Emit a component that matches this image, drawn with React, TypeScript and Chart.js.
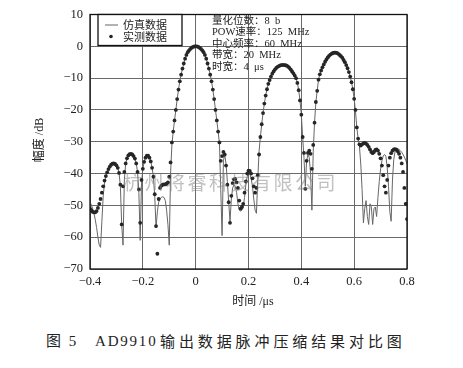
import React, { useEffect, useRef } from "react";
import { Chart, registerables } from "chart.js";

Chart.register(...registerables);

// sample times: T_START + i * T_STEP (µs)
const T_START = -0.4;
const T_STEP = 0.005;

const MEAS_DB = [
  -51.0, -51.5, -52.0, -52.2, -52.2, -51.8, -50.8, -49.5, -48.0, -46.0,
  -44.0, -42.2, -40.8, -39.6, -38.6, -37.8, -37.2, -36.9, -36.8, -37.0,
  -37.4, -38.2, -39.8, -43.5, -56.0, -44.0, -39.5, -36.8, -35.2, -34.3,
  -33.9, -33.8, -34.0, -34.5, -35.3, -36.8, -39.5, -45.0, -55.5, -42.0,
  -38.5, -36.3, -35.0, -34.4, -34.4, -35.0, -36.2, -38.2, -41.0, -46.5,
  -56.5, -65.2, -48.0, -44.5, -43.8, -43.5, -43.4, -43.4, -43.2, -42.8,
  -41.0, -36.5, -30.2, -26.8, -23.3, -20.0, -16.6, -13.6, -11.0, -8.9,
  -7.0, -5.4, -3.9, -2.7, -1.85, -1.25, -0.8, -0.45, -0.2, -0.05,
  0, -0.05, -0.2, -0.45, -0.8, -1.25, -1.85, -2.7, -3.9, -5.4,
  -7.0, -8.9, -11.0, -13.6, -16.6, -20.0, -23.3, -26.8, -30.2, -36.0,
  -34.5, -33.2, -34.0, -37.5, -43.5, -49.0, -55.5, -47.0, -43.0, -41.8,
  -41.7, -42.8, -44.5, -48.5, -51.0, -50.5, -49.5, -46.0, -42.5, -40.0,
  -39.1, -39.2, -40.0, -41.5, -44.0, -46.0, -44.5, -40.5, -34.0, -28.5,
  -24.5, -21.0, -18.0, -15.5, -13.5, -11.8, -10.6, -9.5, -8.6, -7.9,
  -7.3, -6.8, -6.45, -6.2, -6.0, -5.9, -5.85, -5.9, -5.95, -6.1,
  -6.4, -6.8, -7.3, -7.9, -8.5, -9.2, -10.0, -11.5, -13.8, -17.0,
  -21.5, -28.5, -33.5, -44.8, -36.0, -33.5, -32.8, -33.8, -38.5, -31.0,
  -24.0, -17.5, -14.0, -10.5, -8.8, -7.6, -6.6, -5.7, -4.85, -4.15,
  -3.5, -3.0, -2.6, -2.3, -2.1, -2.0, -2.0, -2.1, -2.35, -2.7,
  -3.1, -3.6, -4.3, -5.0, -5.9, -6.9, -8.1, -9.5, -11.3, -13.5,
  -16.5, -20.0, -25.5, -29.0, -30.8, -31.2, -30.8, -30.5, -30.4, -30.6,
  -31.0, -31.6, -32.4, -33.2, -33.6, -33.2, -32.6, -32.4, -32.8, -33.8,
  -35.2, -37.5, -40.5, -44.0, -46.0, -42.0, -37.5, -35.0, -33.6, -32.8,
  -32.4, -32.3, -32.5, -33.0, -33.8, -35.0, -36.8, -39.5, -44.5, -49.5,
  -54.3,
];

// 仿真数据 (dB)
const SIM_DB = [
  -49.0, -49.8, -51.0, -52.5, -54.5, -57.0, -60.0, -62.5, -63.2, -55.0,
  -47.0, -43.0, -40.8, -39.6, -38.6, -37.8, -37.2, -36.9, -36.8, -37.0,
  -37.4, -38.2, -39.8, -44.0, -56.0, -62.5, -42.0, -37.0, -35.3, -34.3,
  -33.9, -33.8, -34.0, -34.5, -35.3, -36.8, -39.5, -46.0, -61.0, -43.0,
  -38.5, -36.3, -35.0, -34.4, -34.4, -35.0, -36.2, -38.2, -41.0, -47.0,
  -57.0, -52.0, -49.0, -48.0, -47.5, -47.3, -47.5, -48.5, -51.5, -56.0,
  -62.5, -40.0, -31.0, -26.8, -23.3, -20.0, -16.6, -13.6, -11.0, -8.9,
  -7.0, -5.4, -3.9, -2.7, -1.85, -1.25, -0.8, -0.45, -0.2, -0.05,
  0, -0.05, -0.2, -0.45, -0.8, -1.25, -1.85, -2.7, -3.9, -5.4,
  -7.0, -8.9, -11.0, -13.6, -16.6, -20.0, -23.3, -26.8, -30.5, -45.0,
  -59.5, -36.0, -34.0, -37.0, -42.5, -49.0, -55.0, -48.0, -44.5, -43.5,
  -44.0, -46.0, -49.5, -51.5, -51.8, -51.5, -50.5, -47.5, -43.5, -41.0,
  -40.0, -40.2, -41.5, -44.0, -48.0, -51.5, -52.5, -42.0, -33.0, -28.5,
  -24.5, -21.0, -18.0, -15.5, -13.5, -11.8, -10.6, -9.5, -8.6, -7.9,
  -7.3, -6.8, -6.45, -6.2, -6.0, -5.9, -5.85, -5.9, -5.95, -6.1,
  -6.4, -6.8, -7.3, -7.9, -8.5, -9.2, -10.0, -11.5, -13.8, -17.0,
  -21.5, -28.5, -35.0, -44.0, -36.0, -34.0, -35.0, -40.0, -51.5, -33.0,
  -24.0, -17.5, -14.0, -10.5, -8.8, -7.6, -6.6, -5.7, -4.85, -4.15,
  -3.5, -3.0, -2.6, -2.3, -2.1, -2.0, -2.0, -2.1, -2.35, -2.7,
  -3.1, -3.6, -4.3, -5.0, -5.9, -6.9, -8.1, -9.5, -11.3, -13.5,
  -16.5, -20.5, -25.5, -29.0, -31.5, -37.0, -45.0, -55.5, -51.0, -48.5,
  -53.5, -56.0, -49.5, -50.5, -56.0, -51.0, -50.5, -53.5, -47.5, -42.5,
  -38.5, -36.0, -34.5, -34.0, -34.5, -38.0, -44.0, -52.0, -55.0, -42.0,
  -35.5, -33.0, -32.3, -32.2, -32.4, -32.8, -33.3, -34.0, -34.8, -35.8,
  -37.0,
];

const X_TICKS = [-0.4, -0.2, 0, 0.2, 0.4, 0.6, 0.8];
const Y_TICKS = [10, 0, -10, -20, -30, -40, -50, -60, -70];
const SERIES_NAMES = ["仿真数据", "实测数据"];
const INFO_LINES = [
  "量化位数：8  b",
  "POW速率：125  MHz",
  "中心频率：60  MHz",
  "带宽：20  MHz",
  "时宽：4  μs",
];
const X_TITLE = "时间 /μs";
const Y_TITLE = "幅度 /dB";
const WATERMARK = "杭州将睿科技有限公司";
const CAPTION_NUM = "图 5";
const CAPTION_CODE = "AD9910";
const CAPTION_TEXT = "输出数据脉冲压缩结果对比图";

const SERIF = '"Liberation Serif", "Noto Sans CJK SC", serif';
const INK = "#222";

function fmt(v: number, digits: number): string {
  if (Math.abs(v) < 1e-9) return "0";
  const s = Math.abs(v).toFixed(digits);
  return (v < 0 ? "\u2212" : "") + s;
}

function toPoints(arr: number[]) {
  return arr.map((y, i) => ({ x: T_START + i * T_STEP, y }));
}

const decorPlugin = {
  id: "decor",
  afterDraw(chart: any) {
    const { ctx, chartArea: ca } = chart;
    ctx.save();

    // watermark
    ctx.fillStyle = "rgba(130,130,130,0.5)";
    ctx.font = '19px "Noto Sans CJK SC", sans-serif';
    ctx.textBaseline = "middle";
    ctx.textAlign = "left";
    (ctx as any).letterSpacing = "2.5px";
    ctx.fillText(WATERMARK, 123, 183);
    (ctx as any).letterSpacing = "0px";

    // frame
    ctx.strokeStyle = "#111";
    ctx.lineWidth = 1.3;
    ctx.strokeRect(ca.left, ca.top, ca.right - ca.left, ca.bottom - ca.top);

    // legend box
    const lx = ca.left + 8;
    const ly = ca.top;
    ctx.fillStyle = "#fff";
    ctx.fillRect(lx, ly, 84, 31);
    ctx.strokeRect(lx, ly, 84, 31);
    ctx.strokeStyle = "#666";
    ctx.lineWidth = 1;
    ctx.beginPath();
    ctx.moveTo(lx + 7, ly + 10.5);
    ctx.lineTo(lx + 20, ly + 10.5);
    ctx.stroke();
    ctx.fillStyle = INK;
    ctx.beginPath();
    ctx.arc(lx + 13, ly + 22, 1.8, 0, Math.PI * 2);
    ctx.fill();
    ctx.font = '11px "Noto Sans CJK SC", sans-serif';
    ctx.textBaseline = "middle";
    ctx.fillText(SERIES_NAMES[0], lx + 25, ly + 10.5);
    ctx.fillText(SERIES_NAMES[1], lx + 25, ly + 22.5);

    // info text
    ctx.font = '10.5px "Liberation Serif", "Noto Sans CJK SC", serif';
    INFO_LINES.forEach((t, i) => {
      ctx.fillText(t, 212, 21 + i * 11.5);
    });

    // axis titles
    ctx.font = '12px "Liberation Serif", "Noto Sans CJK SC", serif';
    ctx.textAlign = "center";
    ctx.fillText(X_TITLE, 253, 302);
    ctx.save();
    ctx.translate(40, 140);
    ctx.rotate(-Math.PI / 2);
    ctx.fillText(Y_TITLE, 0, 0);
    ctx.restore();

    ctx.restore();
  },
};

export default function App() {
  const ref = useRef<HTMLCanvasElement | null>(null);

  useEffect(() => {
    if (!ref.current) return;
    const chart = new Chart(ref.current, {
      type: "scatter",
      data: {
        datasets: [
          {
            label: SERIES_NAMES[1],
            data: toPoints(MEAS_DB),
            showLine: false,
            pointRadius: 1.9,
            pointBorderWidth: 0,
            pointBackgroundColor: "#262626",
            pointBorderColor: "#262626",
          },
          {
            label: SERIES_NAMES[0],
            data: toPoints(SIM_DB),
            showLine: true,
            borderColor: "#666",
            borderWidth: 1,
            pointRadius: 0,
            tension: 0,
          },
        ],
      },
      options: {
        responsive: false,
        animation: false,
        devicePixelRatio: 1,
        events: [],
        layout: { padding: { left: 0, top: 14, right: 56, bottom: 0 } },
        plugins: {
          legend: { display: false },
          tooltip: { enabled: false },
        },
        scales: {
          x: {
            type: "linear",
            min: -0.4,
            max: 0.8,
            border: { display: false },
            grid: { color: "#6a6a6a", lineWidth: 1, drawTicks: false },
            ticks: {
              padding: 5,
              color: INK,
              font: { family: SERIF, size: 12.5 },
              callback: (v: any) => fmt(Number(v), 1),
            },
            afterBuildTicks: (s: any) => {
              s.ticks = X_TICKS.map((v) => ({ value: v }));
            },
            afterFit: (s: any) => {
              s.height = 51;
            },
          },
          y: {
            type: "linear",
            min: -70,
            max: 10,
            border: { display: false },
            grid: { color: "#6a6a6a", lineWidth: 1, drawTicks: false },
            ticks: {
              padding: 7,
              color: INK,
              font: { family: SERIF, size: 12.5 },
              callback: (v: any) => fmt(Number(v), 0),
            },
            afterBuildTicks: (s: any) => {
              s.ticks = Y_TICKS.map((v) => ({ value: v }));
            },
            afterFit: (s: any) => {
              s.width = 90;
            },
          },
        },
      } as any,
      plugins: [
        {
          id: "dash",
          beforeDraw(chart: any) {
            chart.ctx.setLineDash([1, 2]);
          },
          beforeDatasetsDraw(chart: any) {
            chart.ctx.setLineDash([]);
          },
        },
        decorPlugin,
      ],
    });
    return () => chart.destroy();
  }, []);

  return (
    <div
      style={{
        position: "absolute",
        left: 0,
        top: 0,
        width: 463,
        height: 368,
        background: "#fff",
        overflow: "hidden",
      }}
    >
      <canvas ref={ref} width={463} height={320} style={{ display: "block" }} />
      <div
        style={{
          position: "absolute",
          top: 331,
          left: 0,
          width: 463,
          height: 20,
          fontSize: 15,
          lineHeight: "20px",
          color: INK,
          whiteSpace: "nowrap",
        }}
      >
        <span style={{ position: "absolute", left: 46, fontFamily: SERIF, letterSpacing: "2px" }}>{CAPTION_NUM}</span>
        <span style={{ position: "absolute", left: 95, fontFamily: SERIF, letterSpacing: "1.8px" }}>
          {CAPTION_CODE}
        </span>
        <span
          style={{
            position: "absolute",
            left: 160,
            fontFamily: '"Noto Sans CJK SC", sans-serif',
            letterSpacing: "3.9px",
          }}
        >
          {CAPTION_TEXT}
        </span>
      </div>
    </div>
  );
}
